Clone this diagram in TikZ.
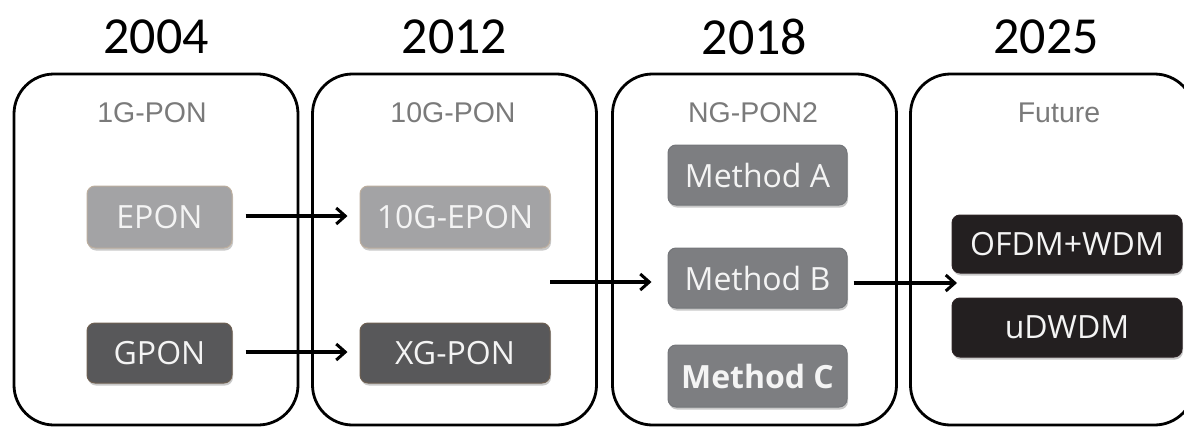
\documentclass[tikz,border=0pt]{standalone}
\usepackage{fontspec}
\setmainfont{Open Sans}
\newfontfamily\yearfont{Carlito}
\newfontfamily\gensfont{Liberation Sans}
\usetikzlibrary{arrows.meta,shadows,calc}

\definecolor{lightbox}{HTML}{A3A3A5}
\definecolor{lightedge}{HTML}{BCAE9E}
\definecolor{darkbox}{HTML}{58585A}
\definecolor{darkedge}{HTML}{6E6052}
\definecolor{midbox}{HTML}{7D7E81}
\definecolor{midedge}{HTML}{74767A}
\definecolor{blackbox}{HTML}{231F20}
\definecolor{blackedge}{HTML}{2E2426}
\definecolor{gentext}{HTML}{7A7A7A}
\definecolor{boxtext}{HTML}{F4F4F4}

\tikzset{
  era/.style={draw=black, line width=2.8pt, rounded corners=40pt,
    minimum width=284pt, minimum height=351pt, inner sep=0pt},
  year/.style={font=\yearfont\fontsize{52}{52}\selectfont, text=black, inner sep=0pt},
  gen/.style={font=\gensfont\fontsize{28.5}{28.5}\selectfont, text=gentext, inner sep=0pt},
  tech/.style={rounded corners=8pt, inner sep=0pt, line width=1pt,
    font=\fontsize{32}{32}\selectfont, text=boxtext,
    drop shadow={shadow xshift=1pt, shadow yshift=-2.5pt, opacity=0.3, fill=black!70}},
  techlight/.style={tech, fill=lightbox, draw=lightedge},
  techdark/.style={tech, fill=darkbox, draw=darkedge},
  techmid/.style={tech, fill=midbox, draw=midedge},
  techblack/.style={tech, fill=blackbox, draw=blackedge},
  arr/.style={draw=black, line width=3.2pt,
    -{Straight Barb[length=9pt, width=16pt, line width=3pt]}}
}

\begin{document}
\begin{tikzpicture}[x=1pt, y=-1pt]
\useasboundingbox (0,0) rectangle (1184,426);

% era panels
\node[era] (p1) at (156,249.5) {};
\node[era] (p2) at (454.5,249.5) {};
\node[era] (p3) at (754.5,249.5) {};
\node[era] (p4) at (1052.5,249.5) {};

% years
\node[year] (y1) at (156,37) {2004};
\node[year] (y2) at (454.5,37) {2012};
\node[year] (y3) at (754.5,37) {2018};
\node[year] (y4) at (1046,37) {2025};

% generation titles
\node[gen] (g1) at (152,112.5) {1G-PON};
\node[gen] (g2) at (453,112.5) {10G-PON};
\node[gen] (g3) at (753,112.5) {NG-PON2};
\node[gen] (g4) at (1059,112.5) {Future};

% technologies
\node[techlight, minimum width=145pt, minimum height=62pt] (epon) at (159.5,217) {EPON};
\node[techdark,  minimum width=145pt, minimum height=60pt] (gpon) at (159.5,353) {GPON};
\node[techlight, minimum width=190pt, minimum height=62pt] (tenepon) at (455,217) {10G-EPON};
\node[techdark,  minimum width=190pt, minimum height=60pt] (xgpon) at (455,353) {XG-PON};
\node[techmid, minimum width=179pt, minimum height=60pt] (ma) at (757.5,175) {Method A};
\node[techmid, minimum width=179pt, minimum height=60pt] (mb) at (757.5,278) {Method B};
\node[techmid, minimum width=179pt, minimum height=62pt] (mc) at (757.5,376) {\bfseries Method C};
\node[techblack, minimum width=230pt, minimum height=58pt] (ofdm) at (1067,244) {OFDM+WDM};
\node[techblack, minimum width=230pt, minimum height=59pt] (udwdm) at (1067,327.5) {uDWDM};

% connectors
\coordinate (fork) at (550,282);
\coordinate (gap) at (957,283);
\draw[arr, shorten <=13pt, shorten >=12pt] (epon.east |- 0,216) -- (tenepon.west |- 0,216);
\draw[arr, shorten <=13pt, shorten >=12pt] (gpon.east |- 0,352) -- (xgpon.west |- 0,352);
\draw[arr, shorten >=16pt] (fork) -- (fork -| mb.west);
\draw[arr, shorten <=6pt] (mb.east |- gap) -- (gap);
\end{tikzpicture}
\end{document}
